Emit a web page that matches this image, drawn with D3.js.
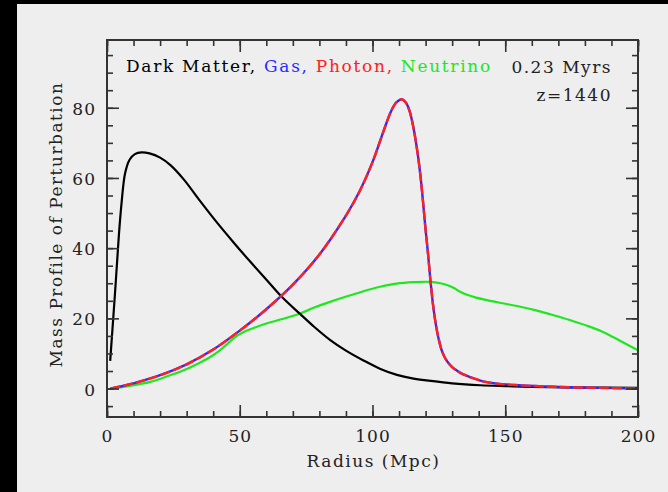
<!DOCTYPE html>
<html>
<head>
<meta charset="utf-8">
<script src="https://cdn.jsdelivr.net/npm/d3@7"></script>
<style>
  html, body { margin: 0; padding: 0; background: #000; }
  svg { display: block; }
  text { font-family: "DejaVu Serif", "Liberation Serif", serif; }
</style>
</head>
<body>
<svg id="chart" width="668" height="492"></svg>
<script>
// ---- Data ----
const dmRadius   = [1.2, 3.0, 4.5, 5.5, 6.8, 8.5, 10.5, 13, 16, 20, 24, 28.9, 35.1, 41, 47.6, 54, 60.3, 66, 72.8, 78, 84.1, 90, 96.6, 103, 109.2, 115, 121.8, 130, 140.6, 150, 160, 180, 200];
const dmMass     = [7.9, 27, 44, 53, 61.3, 65.2, 66.8, 67.3, 67.0, 65.8, 63.6, 59.6, 53.4, 47.7, 41.7, 36.1, 30.8, 26.0, 21.2, 17.6, 13.8, 10.8, 8.0, 5.6, 3.9, 2.9, 2.2, 1.5, 0.95, 0.7, 0.5, 0.3, 0.2];

const gasRadius  = [1.3, 10, 20, 30, 40, 50, 60, 70, 80, 90, 95, 100, 104, 107, 109, 111.1, 112.6, 114, 115.5, 117, 118, 119, 119.9, 120.9, 121.8, 122.7, 123.7, 124.9, 126.2, 127.8, 129.9, 132, 134, 138.1, 142, 146.9, 155, 168.2, 185, 199.6];
const gasMass    = [0, 1.5, 3.8, 6.9, 11.1, 16.5, 22.6, 29.6, 38.2, 49.3, 56.0, 64.5, 73.0, 79.0, 81.5, 82.4, 81.4, 79.0, 74.0, 67.0, 61.0, 53.5, 46.0, 38.5, 31.0, 24.5, 19.0, 14.2, 10.6, 8.1, 6.2, 5.0, 4.1, 2.9, 2.0, 1.4, 0.95, 0.5, 0.2, 0.0];

const photonRadius = gasRadius.slice();
const photonMass   = [0, 1.5, 3.8, 6.9, 11.1, 16.5, 22.6, 29.6, 38.2, 49.3, 56.0, 64.5, 73.0, 79.0, 81.5, 82.4, 81.4, 79.0, 74.0, 67.0, 61.0, 53.5, 46.0, 38.5, 31.0, 24.5, 19.0, 14.2, 10.6, 8.1, 6.2, 5.0, 4.1, 2.9, 2.0, 1.4, 0.95, 0.5, 0.2, 0.0];

const nuRadius   = [1.3, 8, 16.3, 22, 28.9, 34, 38.9, 42, 45.2, 48, 51.5, 55, 60.3, 66, 72.8, 77.8, 84, 90.4, 96, 102.9, 109, 115.5, 121.8, 125.6, 128, 130.5, 133, 135.6, 139, 143.1, 149, 155.7, 162, 168.2, 174, 180.8, 186, 190.8, 195, 200];
const nuMass     = [0, 0.7, 1.9, 3.3, 5.2, 7.0, 9.0, 10.6, 12.6, 14.5, 16.1, 17.2, 18.6, 19.8, 21.4, 23.0, 24.7, 26.3, 27.6, 29.0, 29.9, 30.3, 30.4, 30.0, 29.5, 28.7, 27.6, 26.7, 25.9, 25.2, 24.3, 23.3, 22.2, 20.9, 19.6, 17.9, 16.4, 14.6, 12.9, 10.9];

const xMajorTicks = [0, 50, 100, 150, 200];
const xMinorTicks = d3.range(0, 201, 10);
const yMajorTicks = [0, 20, 40, 60, 80];
const yMinorTicks = d3.range(-5, 100, 5);

const legendParts = [
  {text: "Dark Matter,", color: "#000000"},
  {text: "Gas,", color: "#2a2aff"},
  {text: "Photon,", color: "#ff2020"},
  {text: "Neutrino", color: "#20e620"}
];
const timeLabel = "0.23 Myrs";
const zLabel = "z=1440";
const xTitle = "Radius (Mpc)";
const yTitle = "Mass Profile of Perturbation";

// ---- Layout ----
const W = 668, H = 492;
const L = 107, R = 638, T = 40, B = 417;
const frameColor = "#333333";
const fs = 17, ls = 1.5;

const svg = d3.select("#chart");
svg.append("rect").attr("x", 0).attr("y", 0).attr("width", W).attr("height", H).attr("fill", "#000");
svg.append("rect").attr("x", 17).attr("y", 4).attr("width", W - 17).attr("height", H - 4).attr("fill", "#eeeeee");

const x = d3.scaleLinear().domain([0, 200]).range([L, R]);
const y = d3.scaleLinear().domain([-8.1, 99.3]).range([B, T]);

svg.append("clipPath").attr("id", "clip")
  .append("rect").attr("x", L).attr("y", T).attr("width", R - L).attr("height", B - T);

const line = d3.line().x(d => x(d[0])).y(d => y(d[1])).curve(d3.curveCatmullRom.alpha(0.5));
const zip = (a, b) => a.map((v, i) => [v, b[i]]);

const g = svg.append("g").attr("clip-path", "url(#clip)");
g.append("path").datum(zip(nuRadius, nuMass)).attr("d", line)
  .attr("fill", "none").attr("stroke", "#20e620").attr("stroke-width", 2.2);
g.append("path").datum(zip(dmRadius, dmMass)).attr("d", line)
  .attr("fill", "none").attr("stroke", "#000").attr("stroke-width", 2.2);
g.append("path").datum(zip(gasRadius, gasMass)).attr("d", line)
  .attr("fill", "none").attr("stroke", "#2a2aff").attr("stroke-width", 2.4);
g.append("path").datum(zip(photonRadius, photonMass)).attr("d", line)
  .attr("fill", "none").attr("stroke", "#ff2020").attr("stroke-width", 2.4)
  .attr("stroke-dasharray", "10,3");

// ---- Axes (ticks inward on all four sides) ----
function styleAxis(sel) {
  sel.select(".domain").remove();
  sel.selectAll(".tick line").attr("stroke", frameColor).attr("stroke-width", 1.6);
  sel.selectAll(".tick text").attr("fill", "#222").attr("font-size", fs)
     .attr("letter-spacing", 1)
     .attr("font-family", "DejaVu Serif, Liberation Serif, serif");
}
// bottom
svg.append("g").attr("transform", `translate(0,${B})`)
  .call(d3.axisBottom(x).tickValues(xMinorTicks).tickSize(-6).tickFormat(""))
  .call(styleAxis);
svg.append("g").attr("transform", `translate(0,${B})`)
  .call(d3.axisBottom(x).tickValues(xMajorTicks).tickSize(-12).tickPadding(12.5).tickFormat(d3.format("d")))
  .call(styleAxis);
// top
svg.append("g").attr("transform", `translate(0,${T})`)
  .call(d3.axisTop(x).tickValues(xMinorTicks).tickSize(-6).tickFormat(""))
  .call(styleAxis);
svg.append("g").attr("transform", `translate(0,${T})`)
  .call(d3.axisTop(x).tickValues(xMajorTicks).tickSize(-12).tickFormat(""))
  .call(styleAxis);
// left
svg.append("g").attr("transform", `translate(${L},0)`)
  .call(d3.axisLeft(y).tickValues(yMinorTicks).tickSize(-6).tickFormat(""))
  .call(styleAxis);
svg.append("g").attr("transform", `translate(${L},0)`)
  .call(d3.axisLeft(y).tickValues(yMajorTicks).tickSize(-12).tickPadding(11).tickFormat(d3.format("d")))
  .call(styleAxis)
  .selectAll(".tick text").attr("dy", "0.38em");
// right
svg.append("g").attr("transform", `translate(${R},0)`)
  .call(d3.axisRight(y).tickValues(yMinorTicks).tickSize(-6).tickFormat(""))
  .call(styleAxis);
svg.append("g").attr("transform", `translate(${R},0)`)
  .call(d3.axisRight(y).tickValues(yMajorTicks).tickSize(-12).tickFormat(""))
  .call(styleAxis);

// frame
svg.append("rect").attr("x", L).attr("y", T).attr("width", R - L).attr("height", B - T)
  .attr("fill", "none").attr("stroke", frameColor).attr("stroke-width", 2);

// ---- Titles ----
svg.append("text").attr("x", (L + R) / 2 + 1).attr("y", 467).attr("text-anchor", "middle")
  .attr("font-size", fs).attr("letter-spacing", ls).attr("fill", "#222").text(xTitle);
svg.append("text").attr("transform", `translate(62,${(82 + 367) / 2}) rotate(-90)`)
  .attr("text-anchor", "middle").attr("font-size", fs).attr("letter-spacing", ls).attr("fill", "#222").text(yTitle);

// legend line
const leg = svg.append("text").attr("x", 126).attr("y", 72).attr("font-size", fs)
  .attr("letter-spacing", 1.7).attr("xml:space", "preserve");
legendParts.forEach((p, i) => {
  leg.append("tspan").attr("fill", p.color).text((i > 0 ? " " : "") + p.text);
});
svg.append("text").attr("x", 612).attr("y", 73).attr("text-anchor", "end")
  .attr("font-size", fs).attr("letter-spacing", ls).attr("fill", "#222").attr("xml:space", "preserve").text(timeLabel);
svg.append("text").attr("x", 612).attr("y", 101).attr("text-anchor", "end")
  .attr("font-size", fs).attr("letter-spacing", ls).attr("fill", "#222").text(zLabel);
</script>
</body>
</html>
